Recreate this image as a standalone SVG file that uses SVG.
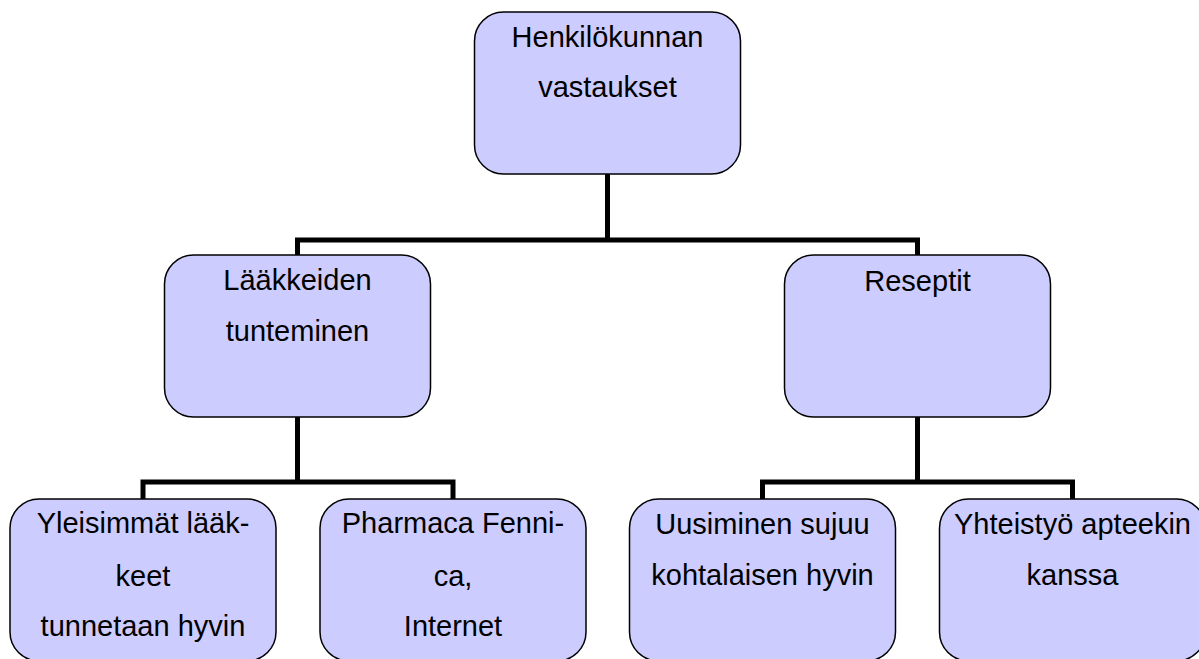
<svg xmlns="http://www.w3.org/2000/svg" width="1199" height="659" viewBox="0 0 1199 659">
<style>
.box{fill:#CCCCFF;stroke:#000;stroke-width:1.5}
.conn{fill:none;stroke:#000;stroke-width:5;stroke-linejoin:miter;stroke-linecap:butt}
text{font-family:"Liberation Sans",Arial,sans-serif;font-size:29px;fill:#000;text-anchor:middle}
</style>
<rect width="1199" height="659" fill="#fff"/>
<g id="connectors">
<path class="conn" d="M297.5,256 V240 H917.5 V256"/>
<path class="conn" d="M607.5,174 V240"/>
<path class="conn" d="M143,500 V482 H453 V500"/>
<path class="conn" d="M297.5,417 V482"/>
<path class="conn" d="M762.5,500 V482 H1072.5 V500"/>
<path class="conn" d="M917.5,417 V482"/>
</g>
<g id="node-root">
<rect class="box" x="474.5" y="12" width="266" height="162" rx="29"/>
<text x="607.5" y="47">Henkilökunnan</text>
<text x="607.5" y="97">vastaukset</text>
</g>
<g id="node-laakkeiden">
<rect class="box" x="164.5" y="255" width="266" height="162" rx="29"/>
<text x="297.5" y="290">Lääkkeiden</text>
<text x="297.5" y="341">tunteminen</text>
</g>
<g id="node-reseptit">
<rect class="box" x="784.5" y="255" width="266" height="162" rx="29"/>
<text x="917.5" y="291">Reseptit</text>
</g>
<g id="node-yleisimmat">
<rect class="box" x="10" y="499" width="266" height="162" rx="29"/>
<text x="143" y="533">Yleisimmät lääk-</text>
<text x="143" y="586">keet</text>
<text x="143" y="636">tunnetaan hyvin</text>
</g>
<g id="node-pharmaca">
<rect class="box" x="320" y="499" width="266" height="162" rx="29"/>
<text x="453" y="533">Pharmaca Fenni-</text>
<text x="453" y="586">ca,</text>
<text x="453" y="636">Internet</text>
</g>
<g id="node-uusiminen">
<rect class="box" x="629.5" y="499" width="266" height="162" rx="29"/>
<text x="762.5" y="534">Uusiminen sujuu</text>
<text x="762.5" y="585">kohtalaisen hyvin</text>
</g>
<g id="node-yhteistyo">
<rect class="box" x="939.5" y="499" width="266" height="162" rx="29"/>
<text x="1072.5" y="534">Yhteistyö apteekin</text>
<text x="1072.5" y="585">kanssa</text>
</g>
</svg>
